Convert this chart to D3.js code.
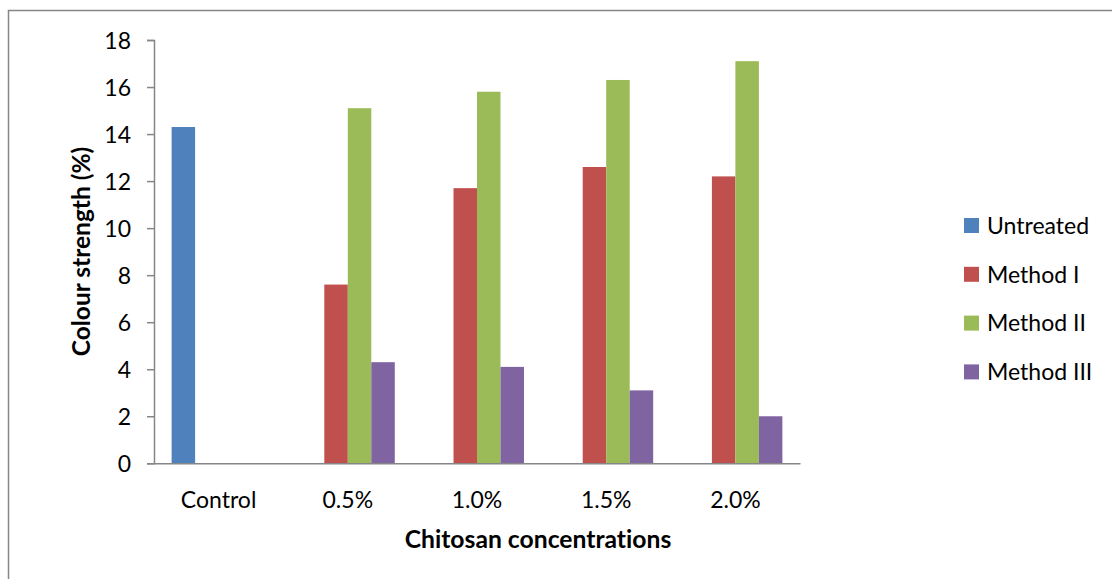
<!DOCTYPE html>
<html>
<head>
<meta charset="utf-8">
<script src="https://cdn.jsdelivr.net/npm/d3@7"></script>
<style>
  html, body { margin: 0; padding: 0; background: #fff; }
  svg { display: block; }
  text { font-family: Lato, "Open Sans", sans-serif; fill: #000; font-variant-ligatures: none; font-feature-settings: "liga" 0, "dlig" 0; }
</style>
</head>
<body>
<svg id="chart" width="1112" height="579"></svg>
<script>
// Colour strength (%) by chitosan concentration and treatment method
const categories = ["Control", "0.5%", "1.0%", "1.5%", "2.0%"];
const seriesNames = ["Untreated", "Method I", "Method II", "Method III"];
const seriesColors = ["#4F81BD", "#C0504D", "#9BBB59", "#8064A2"];
const untreated = [14.3, null, null, null, null];
const methodI   = [null, 7.6, 11.7, 12.6, 12.2];
const methodII  = [null, 15.1, 15.8, 16.3, 17.1];
const methodIII = [null, 4.3, 4.1, 3.1, 2.0];
const yTicks = [0, 2, 4, 6, 8, 10, 12, 14, 16, 18];

const seriesValues = [untreated, methodI, methodII, methodIII];

const svg = d3.select("#chart");
const W = 1112, H = 579;

// chart area frame (right/bottom edges fall outside the view)
svg.append("rect")
  .attr("x", 8.5).attr("y", 10.5)
  .attr("width", W + 20).attr("height", H + 20)
  .attr("fill", "none").attr("stroke", "#868686").attr("stroke-width", 1.5);

const plot = { left: 154, right: 800, top: 40, bottom: 463.3 };

const x0 = d3.scaleBand().domain(categories).range([plot.left, plot.right]).paddingInner(0).paddingOuter(0);
const x1 = d3.scaleBand().domain(seriesNames).range([0, x0.bandwidth()]).paddingInner(0).paddingOuter(0.75);
const y = d3.scaleLinear().domain([0, 18]).range([plot.bottom, plot.top]);

// bars
const g = svg.append("g");
seriesNames.forEach((name, si) => {
  const data = categories.map((c, ci) => ({ c, v: seriesValues[si][ci] })).filter(d => d.v != null);
  g.selectAll(null).data(data).enter().append("rect")
    .attr("x", d => x0(d.c) + x1(name))
    .attr("y", d => y(d.v))
    .attr("width", x1.bandwidth())
    .attr("height", d => y(0) - y(d.v))
    .attr("fill", seriesColors[si]);
});

// y axis
const yAxis = d3.axisLeft(y).tickValues(yTicks).tickSize(7).tickPadding(16).tickFormat(d3.format("d"));
const ya = svg.append("g").attr("transform", `translate(${plot.left},0)`).call(yAxis);
ya.select(".domain").attr("stroke", "#868686").attr("stroke-width", 1.5);
ya.selectAll(".tick line").attr("stroke", "#868686").attr("stroke-width", 1.5);
ya.selectAll(".tick text").style("font-size", "23px").attr("font-family", "Lato").attr("dy", "0.35em");

// x axis
const xAxis = d3.axisBottom(x0).tickSize(0).tickPadding(28);
const xa = svg.append("g").attr("transform", `translate(0,${plot.bottom})`).call(xAxis);
xa.select(".domain").attr("stroke", "#868686").attr("stroke-width", 1.5);
xa.selectAll(".tick text").style("font-size", "23px").attr("font-family", "Lato");

// axis titles
svg.append("text")
  .attr("transform", "translate(538,548)")
  .attr("text-anchor", "middle")
  .style("font-size", "24.7px").style("font-weight", "bold")
  .text("Chitosan concentrations");

svg.append("text")
  .attr("transform", `translate(90,251.5) rotate(-90)`)
  .attr("text-anchor", "middle")
  .style("font-size", "24.5px").style("font-weight", "bold")
  .text("Colour strength (%)");

// legend
const legend = svg.append("g");
seriesNames.forEach((name, i) => {
  const cy = 225.5 + i * 48.8;
  legend.append("rect").attr("x", 964).attr("y", cy - 7.5).attr("width", 15).attr("height", 15).attr("fill", seriesColors[i]);
  legend.append("text").attr("x", 987).attr("y", cy).attr("dy", "0.36em")
    .style("font-size", "23px").text(name);
});
</script>
</body>
</html>
